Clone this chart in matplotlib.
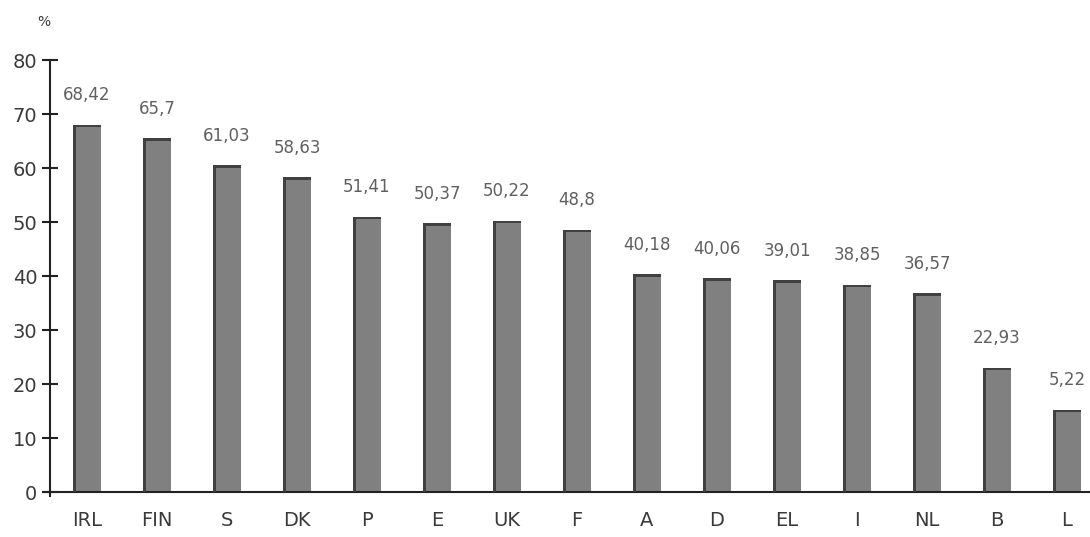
import matplotlib
matplotlib.use("Agg")
import matplotlib.pyplot as plt
import numpy as np

# countries and values
paises = ["IRL", "FIN", "S", "DK", "P", "E", "UK", "F", "A", "D", "EL", "I", "NL", "B", "L"]
alturas = [68.0, 65.5, 60.5, 58.3, 51.0, 49.8, 50.2, 48.6, 40.3, 39.6, 39.2, 38.4, 36.8, 23.0, 15.2]
rotulos = ["68,42", "65,7", "61,03", "58,63", "51,41", "50,37", "50,22", "48,8",
           "40,18", "40,06", "39,01", "38,85", "36,57", "22,93", "5,22"]
yticks = [0, 10, 20, 30, 40, 50, 60, 70, 80]

fonte = ["Liberation Sans Narrow", "DejaVu Sans"]

fig = plt.figure(figsize=(10.9, 5.37), dpi=100)
ax = fig.add_axes([50 / 1090, 45 / 537, 1040 / 1090, 432 / 537])

x = np.arange(len(paises))
largura = 0.41
ax.bar(x, alturas, width=largura, color="#808080", edgecolor="none", zorder=2)
# darker left strip and top line for the pseudo-3D look
ax.bar(x - largura / 2, alturas, width=0.045, align="edge", color="#404040", edgecolor="none", zorder=3)
ax.bar(x, [0.45] * len(x), bottom=np.array(alturas) - 0.45, width=largura, color="#404040",
       edgecolor="none", zorder=3)

for xi, h, r in zip(x, alturas, rotulos):
    ax.text(xi, h + 3.8, r, ha="center", va="bottom", fontsize=12, color="#606060", family=fonte)

ax.set_xlim(-0.529, -0.529 + 1040 / 70)
ax.set_ylim(0, 80)
ax.set_yticks(yticks)
ax.set_xticks(x)
ax.set_xticklabels(paises, family=fonte, fontsize=14, color="#3a3a3a")
ax.set_yticklabels([str(v) for v in yticks], family=fonte, fontsize=14, color="#3a3a3a")
ax.tick_params(axis="x", length=0, pad=14)
ax.tick_params(axis="y", direction="inout", length=12, width=1.5, color="#222222", pad=3)

for s in ["top", "right"]:
    ax.spines[s].set_visible(False)
ax.spines["left"].set_linewidth(1.5)
ax.spines["left"].set_color("#222222")
ax.spines["left"].set_bounds(-0.8, 80)
ax.spines["bottom"].set_linewidth(1.5)
ax.spines["bottom"].set_color("#222222")
ax.axhline(0, xmin=-0.006, xmax=0, color="#222222", linewidth=1.5, clip_on=False)

fig.text(44 / 1090, 1 - 22 / 537, "%", ha="center", va="center", fontsize=10, color="#3a3a3a", family=fonte)

fig.savefig("out.png", dpi=100)
